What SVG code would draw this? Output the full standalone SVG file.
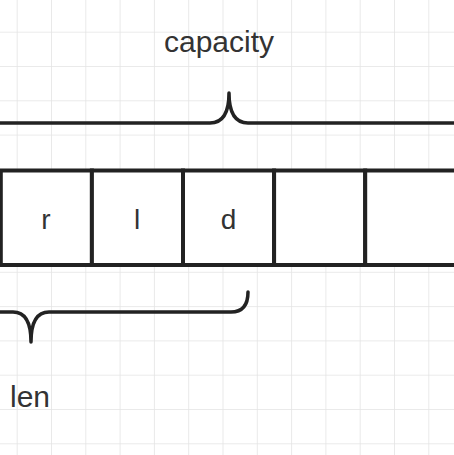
<svg xmlns="http://www.w3.org/2000/svg" width="454" height="455" viewBox="0 0 454 455">
  <defs>
    <pattern id="grid" patternUnits="userSpaceOnUse" x="16.7" y="31.7" width="34.3" height="34.3">
      <path d="M0,0 V34.3 M0,0 H34.3" fill="none" stroke="#e4e4e4" stroke-width="1.6"/>
    </pattern>
    <style>
      .cell { fill: #ffffff; stroke: #222222; stroke-width: 4; }
      .brace { fill: none; stroke: #222222; stroke-width: 3.5; stroke-linecap: round; stroke-linejoin: round; }
      .lbl { font-family: "Liberation Sans", Arial, sans-serif; fill: #333333; text-anchor: middle; }
      .big { font-size: 30px; }
      .ch { font-size: 28px; }
    </style>
  </defs>
  <rect x="0" y="0" width="454" height="455" fill="#ffffff"/>
  <rect x="0" y="0" width="454" height="455" fill="url(#grid)"/>

  <g id="cell0"><rect class="cell" x="0.8" y="170.5" width="91.1" height="94.5"/><text class="lbl ch" x="46" y="228.5">r</text></g>
  <g id="cell1"><rect class="cell" x="91.9" y="170.5" width="91.1" height="94.5"/><text class="lbl ch" x="137" y="228.5">l</text></g>
  <g id="cell2"><rect class="cell" x="183" y="170.5" width="91.1" height="94.5"/><text class="lbl ch" x="228.5" y="228.5">d</text></g>
  <g id="cell3"><rect class="cell" x="274.1" y="170.5" width="91.1" height="94.5"/></g>
  <g id="cell4"><rect class="cell" x="365.2" y="170.5" width="91.1" height="94.5"/></g>

  <g id="capacity-brace">
    <path class="brace" d="M-5,123 H210 Q229,123 229,93 Q229,123 248,123 H460"/>
    <text class="lbl big" x="219" y="52">capacity</text>
  </g>
  <g id="len-brace">
    <path class="brace" d="M-5,312 H13 Q31,312 31,342 Q31,312 49,312 H231 Q248,312 248,292"/>
    <text class="lbl big" x="30" y="407">len</text>
  </g>
</svg>
